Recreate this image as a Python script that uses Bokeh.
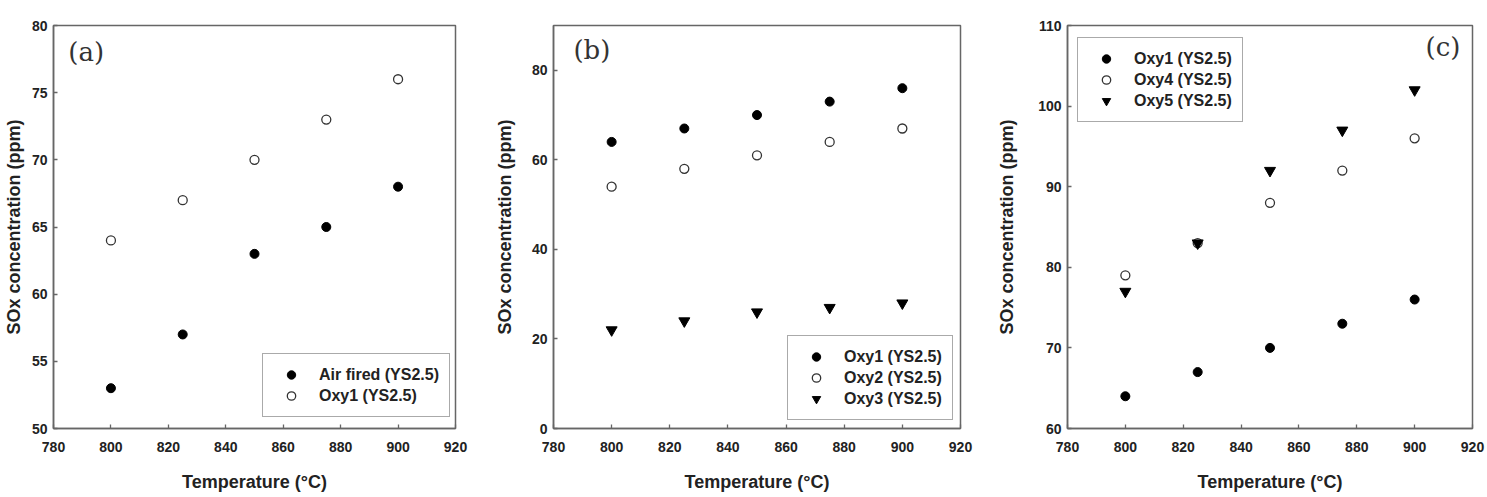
from bokeh.plotting import figure
from bokeh.layouts import row
from bokeh.models import Range1d, FixedTicker, Legend, LegendItem, Label
from bokeh.embed import file_html
from bokeh.resources import INLINE

# Sintering temperature (°C) shared by all panels
temperature = [800, 825, 850, 875, 900]
x_ticks = [780, 800, 820, 840, 860, 880, 900, 920]
x_title = "Temperature (°C)"
y_title = "SOx concentration (ppm)"

# Panel (a): air-fired vs oxy-fuel
a_air_fired = [53, 57, 63, 65, 68]
a_oxy1 = [64, 67, 70, 73, 76]
a_labels = ["Air fired (YS2.5)", "Oxy1 (YS2.5)"]
a_y_ticks = [50, 55, 60, 65, 70, 75, 80]

# Panel (b): Oxy1 / Oxy2 / Oxy3
b_oxy1 = [64, 67, 70, 73, 76]
b_oxy2 = [54, 58, 61, 64, 67]
b_oxy3 = [22, 24, 26, 27, 28]
b_labels = ["Oxy1 (YS2.5)", "Oxy2 (YS2.5)", "Oxy3 (YS2.5)"]
b_y_ticks = [0, 20, 40, 60, 80]

# Panel (c): Oxy1 / Oxy4 / Oxy5
c_oxy1 = [64, 67, 70, 73, 76]
c_oxy4 = [79, 83, 88, 92, 96]
c_oxy5 = [77, 83, 92, 97, 102]
c_labels = ["Oxy1 (YS2.5)", "Oxy4 (YS2.5)", "Oxy5 (YS2.5)"]
c_y_ticks = [60, 70, 80, 90, 100, 110]

FONT = "Liberation Sans"
TEXT = "#222222"
FRAME = "#666666"


def make_panel(width, b_left, b_right, y_lo, y_hi, y_ticks, y_title_standoff):
    p = figure(width=width, height=497,
               x_range=Range1d(780, 920), y_range=Range1d(y_lo, y_hi),
               output_backend="svg", toolbar_location=None,
               min_border_left=b_left, min_border_right=b_right,
               min_border_top=25, min_border_bottom=69,
               background_fill_color="white", border_fill_color="white")
    p.grid.visible = False
    p.outline_line_color = FRAME
    p.outline_line_width = 1.5
    p.xaxis.ticker = FixedTicker(ticks=x_ticks)
    p.yaxis.ticker = FixedTicker(ticks=y_ticks)
    p.xaxis.axis_label = x_title
    p.yaxis.axis_label = y_title
    for ax in (p.xaxis[0], p.yaxis[0]):
        ax.axis_line_color = FRAME
        ax.axis_line_width = 1.5
        ax.major_tick_line_color = FRAME
        ax.major_tick_line_width = 1.3
        ax.major_tick_in = 4
        ax.major_tick_out = 0
        ax.minor_tick_line_color = None
        ax.major_label_text_font = FONT
        ax.major_label_text_font_style = "bold"
        ax.major_label_text_font_size = "14px"
        ax.major_label_text_color = TEXT
        ax.axis_label_text_font = FONT
        ax.axis_label_text_font_style = "bold"
        ax.axis_label_text_font_size = "18px"
        ax.axis_label_text_color = TEXT
    p.xaxis.major_label_standoff = 13
    p.xaxis.axis_label_standoff = 17
    p.yaxis.major_label_standoff = 6
    p.yaxis.axis_label_standoff = y_title_standoff
    return p


def filled(p, y):
    return p.scatter(temperature, y, marker="circle", size=9,
                     fill_color="black", line_color="black")


def hollow(p, y):
    return p.scatter(temperature, y, marker="circle", size=9,
                     fill_color="white", line_color="#333333", line_width=1.3)


def triangle(p, y):
    return p.scatter(temperature, y, marker="inverted_triangle", size=11,
                     fill_color="black", line_color="black")


def add_legend(p, renderers, labels, loc):
    items = [LegendItem(label=lab, renderers=[r]) for lab, r in zip(labels, renderers)]
    leg = Legend(items=items, location=loc, margin=0, padding=10, spacing=0,
                 label_height=21, glyph_height=21, glyph_width=36, label_standoff=10,
                 border_line_color="#555555", border_line_width=1.5,
                 background_fill_color="white", background_fill_alpha=1.0,
                 label_text_font=FONT, label_text_font_style="bold",
                 label_text_font_size="16px", label_text_color=TEXT)
    p.add_layout(leg)


def panel_tag(p, text, fx, fy, align="left"):
    xr, yr = p.x_range, p.y_range
    p.add_layout(Label(x=xr.start + fx * (xr.end - xr.start),
                       y=yr.end - fy * (yr.end - yr.start),
                       text=text, text_font="DejaVu Serif", text_font_size="26px",
                       text_color="#333333", text_align=align, text_baseline="middle"))


# (a)
pa = make_panel(490, 53, 35, 50, 80, a_y_ticks, 5)
ra1 = filled(pa, a_air_fired)
ra2 = hollow(pa, a_oxy1)
add_legend(pa, [ra1, ra2], a_labels, (209, 11))
panel_tag(pa, "(a)", 0.037, 0.065)

# (b)
pb = make_panel(500, 63, 30, 0, 90, b_y_ticks, 14)
rb1 = filled(pb, b_oxy1)
rb2 = hollow(pb, b_oxy2)
rb3 = triangle(pb, b_oxy3)
add_legend(pb, [rb1, rb2, rb3], b_labels, (234, 8))
panel_tag(pb, "(b)", 0.049, 0.061)

# (c)
pc = make_panel(497, 77, 15, 60, 110, c_y_ticks, 18)
rc1 = filled(pc, c_oxy1)
rc2 = hollow(pc, c_oxy4)
rc3 = triangle(pc, c_oxy5)
add_legend(pc, [rc1, rc2, rc3], c_labels, (10, 306))
panel_tag(pc, "(c)", 0.970, 0.054, align="right")

layout = row(pa, pb, pc, spacing=0)
open("out.html", "w").write(file_html(layout, INLINE))
